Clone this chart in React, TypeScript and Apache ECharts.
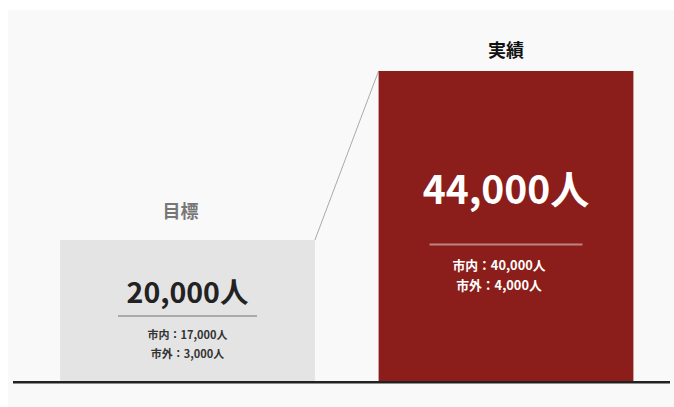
import React, { useEffect, useRef } from "react";
import * as echarts from "echarts";

const categories = ["目標", "実績"];
const totals = [20000, 44000];
const inCity = [17000, 40000];
const outCity = [3000, 4000];
const barColors = ["#e4e4e4", "#8b1e1a"];
const titleColors = ["#777777", "#111111"];

const fmt = (v: number) => v.toLocaleString("en-US");
const FONT = "'Noto Sans CJK JP', 'Noto Sans', sans-serif";

export default function App() {
  const ref = useRef<HTMLDivElement>(null);
  useEffect(() => {
    if (!ref.current) return;
    const chart = echarts.init(ref.current, null, { renderer: "svg" });

    const innerLabels = [
      {
        show: true,
        position: "inside",
        offset: [0, 7],
        formatter: () =>
          `{big|${fmt(totals[0])}人}\n{hr|}\n{sub|市内：${fmt(inCity[0])}人}\n{sub|市外：${fmt(outCity[0])}人}`,
        rich: {
          big: { fontSize: 28.5, fontWeight: "bold", color: "#222", lineHeight: 35, fontFamily: FONT },
          hr: { width: 139, height: 2, backgroundColor: "#aaaaaa", lineHeight: 17 },
          sub: { fontSize: 11, fontWeight: "bold", color: "#333", lineHeight: 19, fontFamily: FONT },
        },
      },
      {
        show: true,
        position: "inside",
        offset: [0, -9],
        formatter: () =>
          `{big|${fmt(totals[1])}人}\n{hr|}\n{sub|市内：${fmt(inCity[1])}人}\n{sub|市外：${fmt(outCity[1])}人}`,
        rich: {
          big: { fontSize: 39, fontWeight: "bold", color: "#fff", lineHeight: 95, fontFamily: FONT },
          hr: { width: 153, height: 2, backgroundColor: "rgba(255,255,255,0.45)", lineHeight: 20.6 },
          sub: { fontSize: 12.8, fontWeight: "bold", color: "#fff", lineHeight: 20, padding: [0, 14, 0, 0], fontFamily: FONT },
        },
      },
    ];

    const option = {
      animation: false,
      grid: { left: 20.25, right: 8.75, top: 18.7, bottom: 26 },
      xAxis: {
        type: "category",
        data: categories,
        axisLine: { show: false },
        axisTick: { show: false },
        axisLabel: { show: false },
      },
      yAxis: { type: "value", min: 0, max: 50000, show: false, splitLine: { show: false } },
      series: [
        {
          type: "bar",
          barWidth: "80%",
          data: totals.map((v, i) => ({
            value: v,
            itemStyle: { color: barColors[i] },
            label: innerLabels[i],
          })),
          z: 2,
        },
        {
          type: "bar",
          barWidth: "80%",
          barGap: "-100%",
          silent: true,
          data: totals.map((v, i) => ({
            value: v,
            itemStyle: { color: "transparent" },
            label: {
              show: true,
              position: "top",
              distance: i === 0 ? 21 : 13,
              offset: i === 0 ? [-7, 0] : [0, 0],
              formatter: categories[i],
              fontSize: 18,
              fontWeight: "bold",
              color: titleColors[i],
              fontFamily: FONT,
            },
          })),
          z: 3,
        },
        {
          type: "custom",
          data: [[0, totals[0]]],
          z: 1,
          renderItem: (params: any, api: any) => {
            const p0 = api.coord([0, totals[0]]);
            const p1 = api.coord([1, totals[1]]);
            const half = api.size([1, 0])[0] * 0.4;
            return {
              type: "line",
              shape: { x1: p0[0] + half, y1: p0[1], x2: p1[0] - half, y2: p1[1] },
              style: { stroke: "#aaaaaa", lineWidth: 1 },
            };
          },
        },
      ],
      graphic: [
        {
          type: "line",
          shape: { x1: 5, y1: 372.3, x2: 662, y2: 372.3 },
          style: { stroke: "#222222", lineWidth: 2.6 },
          z: 10,
        },
      ],
    };
    chart.setOption(option as any);
    return () => chart.dispose();
  }, []);

  return (
    <div
      ref={ref}
      style={{
        position: "absolute",
        left: 8,
        top: 10,
        width: 666,
        height: 397,
        background: "#f9f9f9",
      }}
    />
  );
}
